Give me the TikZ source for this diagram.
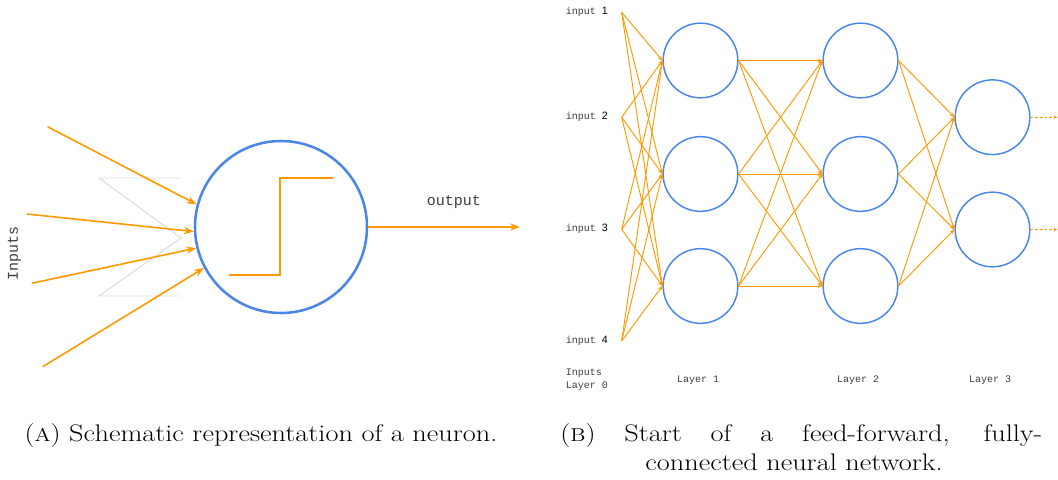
\documentclass[tikz,border=0pt]{standalone}
\usepackage{fontspec}
\newfontfamily\monof{Liberation Mono}
\newfontfamily\sansf{Liberation Sans}
\newfontfamily\capf[FakeStretch=1.18]{Latin Modern Roman}
\newcommand\fakesc[1]{{\fontsize{14}{17}\selectfont #1}}
\usetikzlibrary{arrows.meta}
\definecolor{org}{HTML}{FF9900}
\definecolor{blu}{HTML}{4A86E8}
\definecolor{zig}{HTML}{D9D9D9}
\definecolor{txt}{HTML}{3C3C3C}
\tikzset{
  bigneuron/.style={circle, draw=blu, line width=1.9pt, minimum size=129pt, inner sep=0pt},
  neuron/.style={circle, draw=blu, line width=1.1pt, minimum size=56pt, inner sep=0pt},
  bigarrow/.style={draw=org, line width=1.2pt, -{Stealth[length=7.5pt, width=5.5pt]}},
  steppath/.style={draw=org, line width=1.2pt},
  zigpath/.style={draw=zig, line width=0.7pt},
  smallarrow/.style={draw=org, line width=0.7pt, -{Stealth[length=3.6pt, width=3pt]}},
  dasharrow/.style={draw=org, line width=0.7pt, dash pattern=on 2pt off 1.5pt, -{Stealth[length=3pt, width=2.6pt]}},
  biglabel/.style={text=txt, font=\monof\fontsize{11.25}{13}\selectfont, inner sep=0pt},
  smalllabel/.style={text=txt, font=\monof\fontsize{7.5}{9.75}\selectfont, inner sep=0pt},
  captiontext/.style={text=black, font=\capf\fontsize{18}{22}\selectfont, inner sep=0pt}
}
\begin{document}
\begin{tikzpicture}[x=0.75pt,y=-0.75pt]
\useasboundingbox (0,0) rectangle (1058,479);

% ---------- (A) neuron ----------
\draw[zigpath] (179,178) -- (99,178) -- (181,238) -- (99,296) -- (179,296);
\node[bigneuron] (N) at (281,227) {};
\draw[steppath] (229,275) -- (280,275) -- (280,178) -- (333,178);
\coordinate (i1) at (47.6,126.7);
\coordinate (i2) at (27,214);
\coordinate (i3) at (31.7,283.3);
\coordinate (i4) at (42.8,366.7);
\draw[bigarrow] (i1) -- (N.165.7);
\draw[bigarrow] (i2) -- (N.183);
\draw[bigarrow] (i3) -- (N.194.8);
\draw[bigarrow] (i4) -- (N.208.7);
\coordinate (o) at (520,227);
\draw[bigarrow] (N.east) -- (o);
\node[biglabel] (outl) at (454,202) {output};
\node[biglabel, rotate=90] (inl) at (14.5,253) {Inputs};

% ---------- (B) network ----------
\coordinate (x1) at (621.7,12.3);
\coordinate (x2) at (621.7,117.3);
\coordinate (x3) at (621.7,229.3);
\coordinate (x4) at (621.7,341);
\foreach \k/\yy in {1/12.3,2/117.3,3/229.3,4/341}
  \node[smalllabel, anchor=west] (lx\k) at (565.5,\yy) {input {\sansf\fontsize{8}{9}\selectfont\color{black}\k}};

\node[neuron] (a1) at (700.5,60.5) {};
\node[neuron] (a2) at (700.5,174) {};
\node[neuron] (a3) at (700.5,286) {};
\node[neuron] (b1) at (860.5,60.5) {};
\node[neuron] (b2) at (860.5,174) {};
\node[neuron] (b3) at (860.5,286) {};
\node[neuron] (c1) at (992.5,117.2) {};
\node[neuron] (c2) at (992.5,229.5) {};

\foreach \i in {1,...,4}
  \foreach \j in {1,2,3}
    \draw[smallarrow] (x\i) -- (a\j.west);
\foreach \i in {1,2,3}
  \foreach \j in {1,2,3}
    \draw[smallarrow] (a\i.east) -- (b\j.west);
\foreach \i in {1,2,3}
  \foreach \j in {1,2}
    \draw[smallarrow] (b\i.east) -- (c\j.west);
\coordinate (y1) at (1057.5,117.2);
\coordinate (y2) at (1057.5,229.5);
\draw[dasharrow] (c1.east) -- (y1);
\draw[dasharrow] (c2.east) -- (y2);

\node[smalllabel, anchor=west, align=left] (l0) at (565.5,379.5) {Inputs\\Layer 0};
\node[smalllabel] (l1) at (698,380) {Layer 1};
\node[smalllabel] (l2) at (858,380) {Layer 2};
\node[smalllabel] (l3) at (990,380) {Layer 3};

% ---------- captions ----------
\node[captiontext] (capa) at (261,436) {(\fakesc{A}) Schematic representation of a neuron.};
\node[captiontext, anchor=west] (capb1) at (560,436) {\makebox[361.5pt][s]{(\fakesc{B}) Start of a feed-forward, fully-}};
\node[captiontext] (capb2) at (794,462) {connected neural network.};
\end{tikzpicture}
\end{document}
